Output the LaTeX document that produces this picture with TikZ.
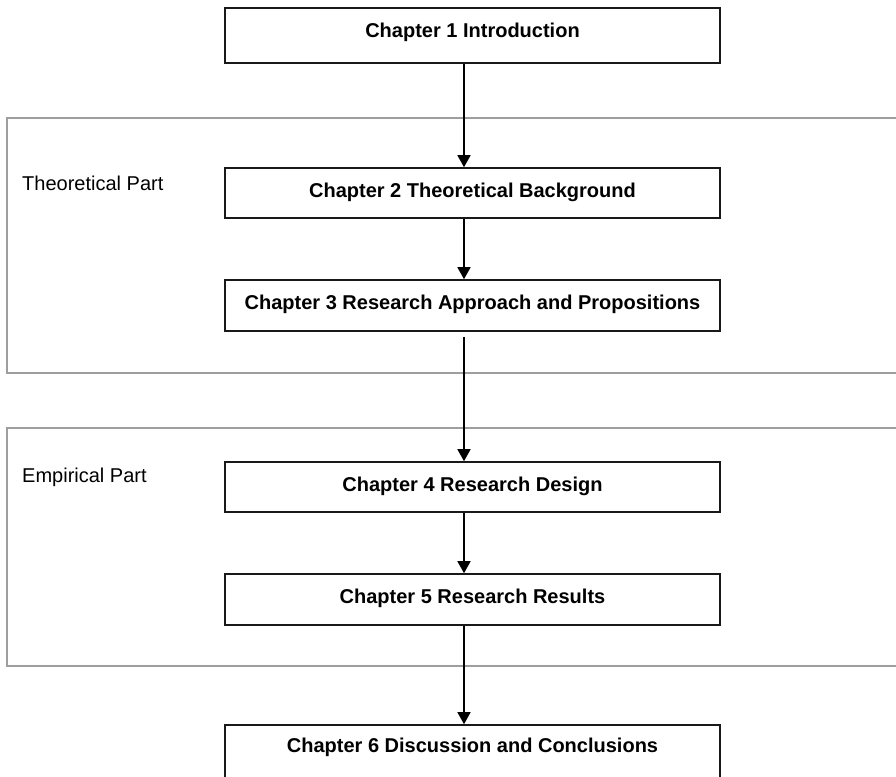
\documentclass[tikz,border=0pt]{standalone}
\usepackage{fontspec}
\setmainfont{Liberation Sans}
\usetikzlibrary{arrows.meta}
\begin{document}
\begin{tikzpicture}[x=1pt,y=-1pt,
  chapbox/.style={draw=black!90, line width=1.6pt, minimum width=495pt, inner sep=0pt,
    text height=15pt, text depth=7pt, font=\fontsize{20}{24}\selectfont\bfseries},
  partline/.style={draw=black!38, line width=1.3pt},
  partlabel/.style={anchor=west, inner sep=0pt, font=\fontsize{20}{24}\selectfont},
  flow/.style={line width=1.4pt, -{Triangle[width=13pt,length=12pt]}}]
\useasboundingbox (0,0) rectangle (896,776);

% part frames (open to the right)
\draw[partline] (900,118) -- (7,118) -- (7,373) -- (900,373);
\draw[partline] (900,428) -- (7,428) -- (7,666) -- (900,666);
\node[partlabel] (theo) at (22,183) {Theoretical Part};
\node[partlabel] (emp) at (22,477.5) {Empirical Part};

% chapters
\node[chapbox, minimum height=55pt, text depth=11.5pt] (c1) at (472.5,35.5) {Chapter 1 Introduction};
\node[chapbox, minimum height=50pt] (c2) at (472.5,193) {Chapter 2 Theoretical Background};
\node[chapbox, minimum height=51pt] (c3) at (472.5,305.5) {Chapter 3 Research Approach and Propositions};
\node[chapbox, minimum height=50pt] (c4) at (472.5,487) {Chapter 4 Research Design};
\node[chapbox, minimum height=51pt] (c5) at (472.5,599.5) {Chapter 5 Research Results};
\node[chapbox, minimum height=55pt, text height=22pt, text depth=22pt] (c6) at (472.5,752.5) {Chapter 6 Discussion and Conclusions};

% connectors run on a common vertical axis
\coordinate (axis) at (464,0);
\draw[flow] (c1.south -| axis) -- (c2.north -| axis);
\draw[flow] (c2.south -| axis) -- (c3.north -| axis);
\draw[flow, shorten <=5pt] (c3.south -| axis) -- (c4.north -| axis);
\draw[flow] (c4.south -| axis) -- (c5.north -| axis);
\draw[flow] (c5.south -| axis) -- (c6.north -| axis);
\end{tikzpicture}
\end{document}
